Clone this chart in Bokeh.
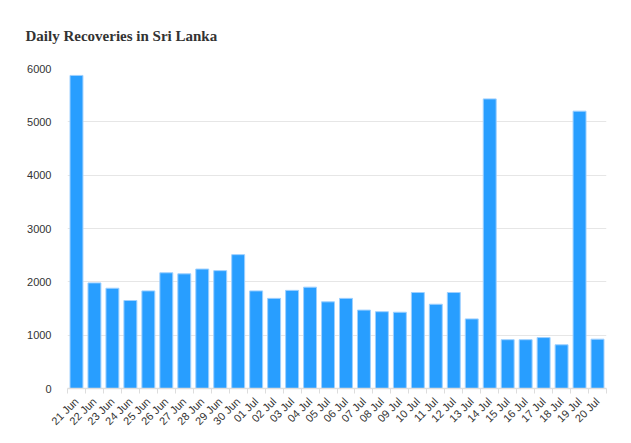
import math
from bokeh.plotting import figure
from bokeh.models import FixedTicker, Range1d
from bokeh.embed import file_html
from bokeh.resources import INLINE

categories = ["21 Jun", "22 Jun", "23 Jun", "24 Jun", "25 Jun", "26 Jun", "27 Jun", "28 Jun",
              "29 Jun", "30 Jun", "01 Jul", "02 Jul", "03 Jul", "04 Jul", "05 Jul", "06 Jul",
              "07 Jul", "08 Jul", "09 Jul", "10 Jul", "11 Jul", "12 Jul", "13 Jul", "14 Jul",
              "15 Jul", "16 Jul", "17 Jul", "18 Jul", "19 Jul", "20 Jul"]
recoveries = [5870, 1980, 1880, 1650, 1830, 2170, 2150, 2240, 2210, 2510,
              1830, 1690, 1840, 1900, 1625, 1690, 1470, 1440, 1430, 1800,
              1580, 1800, 1305, 5430, 915, 915, 955, 820, 5200, 925]
y_ticks = [0, 1000, 2000, 3000, 4000, 5000, 6000]

xs = list(range(len(categories)))
bounds = [i - 0.5 for i in range(len(categories) + 1)]

p = figure(width=623, height=435, output_backend="svg", toolbar_location=None,
           x_range=Range1d(-0.5, len(categories) - 0.5), y_range=Range1d(0, 6000),
           min_border_left=67, min_border_right=17, min_border_top=68, min_border_bottom=47,
           title="Daily Recoveries in Sri Lanka")
p.outline_line_color = None
p.background_fill_color = "white"
p.border_fill_color = "white"

p.title.text_font = "Liberation Serif"
p.title.text_font_size = "15px"
p.title.text_font_style = "bold"
p.title.text_color = "#333333"
p.title.offset = -42
p.title.standoff = 49

p.vbar(x=xs, top=recoveries, width=0.72, fill_color="#289EFF", line_color="#9ed0ff", line_width=1)

p.xaxis.ticker = FixedTicker(ticks=xs, minor_ticks=bounds)
p.xaxis.major_label_overrides = {i: c for i, c in zip(xs, categories)}
p.xaxis.major_label_orientation = math.pi / 4
p.xaxis.major_tick_out = 0
p.xaxis.major_tick_in = 0
p.xaxis.minor_tick_out = 5
p.xaxis.minor_tick_in = 0
p.xaxis.minor_tick_line_color = "#dddddd"
p.xaxis.axis_line_color = "#dddddd"
p.xaxis.axis_line_width = 1.5
p.xaxis.major_label_text_font = "Liberation Sans"
p.xaxis.major_label_text_font_size = "11px"
p.xaxis.major_label_text_color = "#333333"
p.xaxis.major_label_standoff = 6

p.yaxis.ticker = FixedTicker(ticks=y_ticks)
p.yaxis.axis_line_color = None
p.yaxis.major_tick_line_color = None
p.yaxis.minor_tick_line_color = None
p.yaxis.major_label_text_font = "Liberation Sans"
p.yaxis.major_label_text_font_size = "11px"
p.yaxis.major_label_text_color = "#333333"
p.yaxis.major_label_standoff = 10

p.xgrid.grid_line_color = None
p.ygrid.grid_line_color = "#e6e6e6"
p.ygrid.grid_line_width = 1

open("out.html", "w").write(file_html(p, INLINE))
